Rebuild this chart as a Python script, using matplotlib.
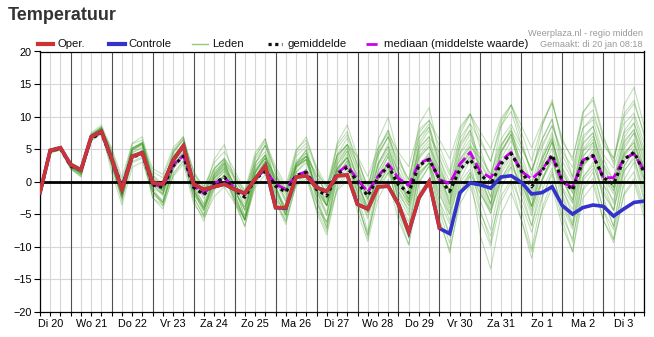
import matplotlib
matplotlib.use("Agg")
import matplotlib.pyplot as plt
from matplotlib.lines import Line2D
import numpy as np

plt.rcParams['font.family'] = ['Liberation Sans', 'DejaVu Sans']

# ── Data: 6-hourly steps, Di 20 06:00 .. Wo 4 00:00 ──
day_labels = ["Di 20", "Wo 21", "Do 22", "Vr 23", "Za 24", "Zo 25", "Ma 26", "Di 27",
              "Wo 28", "Do 29", "Vr 30", "Za 31", "Zo 1", "Ma 2", "Di 3"]

oper = [-1.7, 4.8, 5.2, 2.6, 1.8, 6.9, 7.7, 3.5, -1.2, 3.9,
        4.4, -0.2, -0.4, 3.3, 5.5, -0.4, -1.2, -0.8, -0.4, -1.2,
        -1.8, 0.4, 2.4, -4.0, -4.0, 0.7, 0.9, -0.9, -1.5, 0.9,
        1.0, -3.5, -4.2, -0.8, -0.7, -3.5, -7.7, -2.5, 0.0, -7.1]

controle = [-1.7, 4.8, 5.2, 2.6, 1.8, 6.9, 7.7, 3.5, -1.2, 3.9,
            4.4, -0.2, -0.4, 3.3, 5.5, -0.4, -1.2, -0.8, -0.4, -1.2,
            -1.8, 0.4, 2.4, -4.0, -4.1, 0.7, 0.9, -0.9, -1.5, 0.9,
            1.0, -3.5, -4.2, -0.8, -0.7, -3.5, -7.8, -2.5, 0.0, -7.2,
            -8.0, -1.7, -0.2, -0.5, -1.0, 0.7, 0.9, -0.1, -1.9, -1.7,
            -0.8, -3.7, -5.0, -4.0, -3.6, -3.8, -5.3, -4.2, -3.2, -3.0]

gemiddelde = [-1.7, 4.7, 5.1, 2.4, 1.8, 6.6, 7.5, 3.4, -0.8, 3.8,
              4.2, -0.5, -0.9, 2.4, 3.9, -0.9, -2.0, -0.3, 0.7, -1.3,
              -2.4, 0.4, 1.6, -0.7, -1.6, 0.9, 1.4, -1.2, -2.2, 1.1,
              2.2, -0.1, -2.2, 0.6, 2.4, -0.5, -1.7, 2.5, 3.4, 0.4,
              -1.5, 1.9, 3.4, 1.1, -0.4, 2.7, 4.3, 1.6, -0.8, 1.6,
              4.1, 0.1, -1.3, 3.2, 4.0, 0.6, -0.4, 3.4, 4.5, 1.4]

mediaan = [-1.7, 4.8, 5.1, 2.4, 1.8, 6.7, 7.6, 3.4, -0.6, 3.9,
           4.3, -0.4, -0.8, 2.6, 4.0, -0.7, -1.8, -0.3, 0.6, -1.0,
           -2.0, 0.5, 1.8, -0.4, -1.2, 1.0, 1.5, -0.8, -1.6, 1.3,
           2.5, 0.3, -1.6, 0.8, 2.7, 0.5, -0.6, 2.8, 3.5, 0.3,
           -0.3, 2.7, 4.5, 1.5, 0.6, 3.2, 4.5, 1.6, 0.4, 1.8,
           4.0, -0.1, -0.9, 3.3, 4.0, 0.6, 0.6, 3.5, 4.3, 1.6]

leden = [
    [-1.6, 4.8, 5.2, 2.7, 1.7, 7.1, 8.2, 4.2, -0.8, 5.0, 5.8, 0.5, -0.9, 3.9, 5.9, 0.6, -1.9, 1.9, 3.6, 0.7, -2.4, 3.4, 5.6, 1.8, -1.1, 4.4, 5.9, 1.8, -1.2, 5.1, 7.2, 3.4, -0.7, 5.1, 7.9, 3.5, 0.3, 7.5, 9.4, 5.4, 1.5, 7.9, 10.4, 6.6, 3.1, 9.2, 11.8, 7.6, 3.2, 8.6, 12.1, 6.6, 3.2, 10.7, 12.5, 6.6, 3.6, 10.4, 12.5, 6.9],
    [-1.8, 4.6, 5.0, 2.1, 1.0, 6.6, 7.7, 2.9, -2.3, 3.8, 4.7, -1.5, -3.2, 2.0, 4.2, -2.4, -5.3, -0.9, 1.0, -3.3, -6.9, -0.4, 2.1, -3.2, -6.6, -0.4, 1.4, -4.7, -8.2, -1.2, 1.2, -4.6, -9.2, -2.7, 0.4, -6.0, -9.7, -1.8, 0.4, -6.1, -10.5, -3.4, -0.6, -5.9, -9.9, -3.1, -0.2, -5.9, -10.8, -4.7, -0.9, -6.9, -10.8, -2.6, -0.5, -5.9, -9.4, -1.9, 0.5, -4.6],
    [-1.5, 4.9, 5.3, 2.9, 2.1, 7.2, 8.2, 4.6, 0.0, 5.2, 5.8, 1.5, 0.6, 4.7, 6.4, 1.1, -0.7, 2.1, 3.4, 0.2, -1.9, 2.4, 4.1, 0.3, -1.6, 2.4, 3.4, -0.7, -2.7, 2.1, 3.7, -0.6, -3.7, 0.6, 2.9, -2.0, -4.2, 1.5, 2.9, -2.1, -5.0, -0.1, 1.9, -1.9, -4.4, 0.2, 2.3, -0.4, -3.8, 0.1, 3.1, -0.9, -3.3, 2.7, 4.0, 0.6, -1.4, 3.9, 5.5, 1.9],
    [-1.9, 4.5, 4.9, 2.2, 1.3, 6.6, 7.6, 2.4, -2.4, 3.1, 3.8, -2.0, -3.2, 1.3, 3.2, -1.9, -4.1, -0.8, 0.8, -1.3, -3.9, 1.2, 3.1, 0.3, -2.1, 2.7, 3.9, 0.8, -1.7, 3.9, 5.7, 2.9, -0.7, 4.4, 6.9, 3.0, 0.3, 6.8, 8.4, 3.4, 0.0, 5.7, 7.9, 3.1, 0.1, 5.5, 7.8, 2.6, -1.3, 3.4, 6.6, 0.1, -2.8, 4.0, 5.5, -0.4, -2.9, 3.2, 5.0, -0.1],
    [-1.7, 4.7, 5.1, 3.0, 1.8, 7.5, 8.7, 4.9, -0.5, 5.9, 6.9, 0.0, -1.9, 3.7, 5.9, -0.9, -4.1, 0.8, 2.8, -1.8, -5.9, 1.4, 4.1, -1.7, -5.6, 1.4, 3.4, -3.2, -7.2, 0.6, 3.2, -3.1, -8.2, -0.9, 2.4, -4.5, -8.7, 0.0, 2.4, -4.6, -9.5, -1.6, 1.4, -2.9, -7.4, 0.2, 3.3, -1.4, -6.8, 0.1, 4.1, -2.4, -6.8, 2.2, 4.5, -2.9, -6.9, 1.4, 4.0, -2.6],
    [-1.6, 4.8, 5.2, 2.4, 1.4, 6.8, 7.9, 3.6, -1.4, 4.4, 5.2, 0.3, -1.1, 3.7, 5.7, 0.6, -1.9, 1.9, 3.6, 1.2, -1.9, 3.9, 6.1, 2.3, -0.6, 4.9, 6.4, 2.3, -0.7, 5.6, 7.7, 2.4, -1.7, 4.1, 6.9, 1.0, -2.2, 5.0, 6.9, 0.9, -3.0, 3.4, 5.9, 2.1, -1.4, 4.7, 7.3, 4.1, -0.3, 5.1, 8.6, 4.1, 0.7, 8.2, 10.0, 6.1, 3.1, 9.9, 12.0, 7.4],
    [-2.0, 4.4, 4.8, 1.9, 1.0, 6.3, 7.3, 2.2, -2.6, 2.9, 3.6, -2.5, -3.7, 0.8, 2.7, -3.4, -5.6, -2.3, -0.8, -3.3, -5.9, -0.9, 1.1, -1.7, -4.1, 0.7, 1.9, -1.2, -3.7, 1.9, 3.7, 0.9, -2.7, 2.4, 4.9, 1.5, -1.2, 5.3, 6.9, 4.4, 1.0, 6.7, 8.9, 6.1, 3.1, 8.5, 10.8, 5.6, 1.7, 6.4, 9.6, 2.1, -0.8, 6.0, 7.5, 0.6, -1.9, 4.2, 6.0, 0.4],
    [-1.5, 4.9, 5.3, 2.6, 1.5, 7.1, 8.2, 3.9, -1.3, 4.8, 5.7, -0.5, -2.2, 3.0, 5.2, -1.4, -4.3, 0.1, 2.0, -2.3, -5.9, 0.7, 3.1, -2.7, -6.1, 0.2, 1.9, -4.2, -7.7, -0.7, 1.7, -3.6, -8.2, -1.7, 1.4, -3.5, -7.2, 0.8, 2.9, -1.6, -6.0, 1.2, 3.9, 0.6, -3.4, 3.5, 6.3, 2.6, -2.3, 3.9, 7.6, 2.1, -1.8, 6.5, 8.5, 3.6, 0.1, 7.7, 10.0, 4.9],
    [-1.7, 4.7, 5.1, 2.3, 1.3, 6.7, 7.8, 3.7, -1.3, 4.5, 5.3, 1.0, -0.4, 4.4, 6.4, 1.6, -0.9, 2.9, 4.6, 1.7, -1.4, 4.4, 6.6, 1.3, -1.6, 3.9, 5.4, -0.2, -3.2, 3.1, 5.2, -0.1, -4.2, 1.6, 4.4, -1.5, -4.7, 2.5, 4.4, -1.1, -5.0, 1.4, 3.9, -1.4, -4.9, 1.2, 3.8, -2.4, -6.8, -1.4, 2.1, -5.4, -8.8, -1.3, 0.5, -5.9, -8.9, -2.1, 0.0, -5.6],
    [-1.8, 4.6, 5.0, 2.8, 2.0, 7.1, 8.1, 3.1, -1.5, 3.7, 4.3, -1.0, -1.9, 2.2, 3.9, -0.4, -2.2, 0.6, 1.9, -0.3, -2.4, 1.9, 3.6, 0.8, -1.1, 2.9, 3.9, 1.3, -0.7, 4.1, 5.7, 3.9, 0.8, 5.1, 7.4, 4.5, 2.3, 8.0, 9.4, 6.4, 3.5, 8.4, 10.4, 7.6, 5.1, 9.7, 11.8, 8.6, 5.2, 9.1, 12.1, 6.1, 3.7, 9.7, 11.0, 5.6, 3.6, 8.9, 10.5, 5.9],
    [-1.4, 5.0, 5.4, 2.5, 1.5, 6.9, 8.0, 4.4, -0.6, 5.2, 6.0, 0.0, -1.4, 3.4, 5.4, -1.9, -4.4, -0.6, 1.1, -2.8, -5.9, -0.1, 2.1, -1.2, -4.1, 1.4, 2.9, -0.7, -3.7, 2.6, 4.7, 0.9, -3.2, 2.6, 5.4, -0.5, -3.7, 3.5, 5.4, -0.6, -4.5, 1.9, 4.4, -0.9, -4.4, 1.7, 4.3, 0.6, -3.8, 1.6, 5.1, 0.6, -2.8, 4.7, 6.5, 2.1, -0.9, 5.9, 8.0, 3.4],
    [-1.9, 4.5, 4.9, 2.0, 0.7, 6.6, 7.8, 2.6, -3.0, 3.7, 4.8, -1.0, -3.2, 2.8, 5.2, -0.9, -4.5, 0.9, 3.2, -0.8, -5.4, 2.7, 5.6, -0.7, -5.1, 2.7, 4.9, -2.2, -6.7, 1.9, 4.7, -2.1, -7.7, 0.4, 3.9, -3.0, -7.7, 1.8, 4.4, -3.1, -8.5, 0.2, 3.4, -4.4, -9.4, -1.1, 2.3, -4.4, -10.3, -2.7, 1.6, -4.4, -9.3, 0.5, 3.0, -2.4, -6.9, 2.2, 5.0, -1.1],
    [-1.6, 4.8, 5.2, 2.7, 1.8, 7.1, 8.1, 3.4, -1.4, 4.1, 4.8, 0.5, -0.7, 3.8, 5.7, 0.1, -2.1, 1.2, 2.8, -0.8, -3.4, 1.7, 3.6, 0.8, -1.6, 3.2, 4.4, 0.8, -1.7, 3.9, 5.7, 1.4, -2.2, 2.9, 5.4, 0.0, -2.7, 3.8, 5.4, 1.9, -1.5, 4.2, 6.4, 4.1, 1.1, 6.5, 8.8, 5.6, 1.7, 6.4, 9.6, 3.1, 0.2, 7.0, 8.5, 2.6, 0.1, 6.2, 8.0, 2.9],
    [-1.7, 4.7, 5.1, 2.2, 1.2, 6.6, 7.7, 4.0, -1.0, 4.8, 5.6, -0.5, -1.9, 2.9, 4.9, -1.4, -3.9, -0.1, 1.6, -1.3, -4.4, 1.4, 3.6, -2.2, -5.1, 0.4, 1.9, -2.2, -5.2, 1.1, 3.2, -0.1, -4.2, 1.6, 4.4, 0.5, -2.7, 4.5, 6.4, 0.4, -3.5, 2.9, 5.4, 0.1, -3.4, 2.7, 5.3, -0.9, -5.3, 0.1, 3.6, -3.4, -6.8, 0.7, 2.5, -1.4, -4.4, 2.4, 4.5, 0.4],
    [-1.9, 4.5, 4.9, 2.5, 1.4, 7.0, 8.1, 2.9, -2.3, 3.8, 4.7, -2.5, -4.2, 1.0, 3.2, -2.4, -5.3, -0.9, 1.0, -2.3, -5.9, 0.7, 3.1, -0.7, -4.1, 2.2, 3.9, -0.2, -3.7, 3.4, 5.7, 1.9, -2.7, 3.9, 6.9, 2.5, -1.2, 6.8, 8.9, 2.4, -2.0, 5.2, 7.9, 1.6, -2.4, 4.5, 7.3, 1.1, -3.8, 2.4, 6.1, 0.6, -3.3, 5.0, 7.0, 2.6, -0.9, 6.7, 9.0, 3.9],
    [-1.5, 4.9, 5.3, 2.6, 1.8, 6.9, 7.9, 5.2, 0.6, 5.8, 6.4, 2.0, 1.1, 5.2, 6.9, 0.1, -1.7, 1.1, 2.4, -1.8, -3.9, 0.4, 2.1, -2.7, -4.6, -0.6, 0.4, -4.2, -6.2, -1.4, 0.2, -2.1, -5.2, -0.9, 1.4, -1.0, -3.2, 2.5, 3.9, 1.4, -1.5, 3.4, 5.4, 3.6, 1.1, 5.7, 7.8, 5.1, 1.7, 5.6, 8.6, 4.6, 2.2, 8.2, 9.5, 4.1, 2.1, 7.4, 9.0, 4.4],
    [-1.7, 4.7, 5.1, 2.4, 1.5, 6.8, 7.8, 3.2, -1.6, 3.9, 4.6, 0.0, -1.2, 3.3, 5.2, -0.4, -2.6, 0.7, 2.3, -0.3, -2.9, 2.2, 4.1, -0.2, -2.6, 2.2, 3.4, -1.2, -3.7, 1.9, 3.7, -1.1, -4.7, 0.4, 2.9, -2.5, -5.2, 1.3, 2.9, -3.1, -6.5, -0.9, 1.4, -1.9, -4.9, 0.5, 2.8, -0.4, -4.3, 0.4, 3.6, -1.4, -4.3, 2.5, 4.0, -1.9, -4.4, 1.7, 3.5, -1.6],
    [-1.6, 4.8, 5.2, 2.6, 1.3, 7.2, 8.4, 3.8, -1.8, 4.9, 6.0, -1.5, -3.7, 2.3, 4.7, -1.4, -5.0, 0.4, 2.7, -0.8, -5.4, 2.7, 5.6, 1.3, -3.1, 4.7, 6.9, 1.8, -2.7, 5.9, 8.7, 3.9, -1.7, 6.4, 9.9, 4.0, -0.7, 8.8, 11.4, 3.9, -1.5, 7.2, 10.4, 5.1, 0.1, 8.5, 11.8, 6.6, 0.7, 8.4, 12.6, 5.6, 0.7, 10.5, 13.0, 7.1, 2.6, 11.7, 14.5, 8.4],
    [-1.8, 4.6, 5.0, 2.3, 1.3, 6.7, 7.8, 1.4, -3.6, 2.2, 3.0, -1.5, -2.9, 1.9, 3.9, -0.9, -3.4, 0.4, 2.1, -1.3, -4.4, 1.4, 3.6, -0.2, -3.1, 2.4, 3.9, -1.7, -4.7, 1.6, 3.7, -1.6, -5.7, 0.1, 2.9, -3.0, -6.2, 1.0, 2.9, -4.1, -8.0, -1.6, 0.9, -4.9, -8.4, -2.3, 0.3, -3.4, -7.8, -2.4, 1.1, -3.9, -7.3, 0.2, 2.0, -4.4, -7.4, -0.6, 1.5, -4.1],
    [-1.7, 4.7, 5.1, 2.7, 1.5, 7.2, 8.4, 4.1, -1.3, 5.1, 6.1, 1.0, -0.9, 4.7, 6.9, -0.4, -3.6, 1.3, 3.3, -1.8, -5.9, 1.4, 4.1, -1.2, -5.1, 1.9, 3.9, -1.2, -5.2, 2.6, 5.2, 0.4, -4.7, 2.6, 5.9, 1.0, -3.2, 5.5, 7.9, 2.9, -2.0, 5.9, 8.9, 2.1, -2.4, 5.2, 8.3, 1.6, -3.8, 3.1, 7.1, -0.9, -5.3, 3.7, 6.0, 0.6, -3.4, 4.9, 7.5, 1.9],
    [-1.5, 4.9, 5.3, 2.1, 1.3, 6.4, 7.4, 3.5, -1.1, 4.1, 4.7, -0.5, -1.4, 2.7, 4.4, 0.6, -1.2, 1.6, 2.9, 0.7, -1.4, 2.9, 4.6, 0.3, -1.6, 2.4, 3.4, -1.7, -3.7, 1.1, 2.7, -1.6, -4.7, -0.4, 1.9, -1.5, -3.7, 2.0, 3.4, 0.4, -2.5, 2.4, 4.4, 2.6, 0.1, 4.7, 6.8, 3.1, -0.3, 3.6, 6.6, 1.1, -1.3, 4.7, 6.0, 1.1, -0.9, 4.4, 6.0, 1.4],
    [-1.8, 4.6, 5.0, 2.9, 1.9, 7.3, 8.4, 4.3, -0.7, 5.1, 5.9, 0.0, -1.4, 3.4, 5.4, -1.4, -3.9, -0.1, 1.6, -2.8, -5.9, -0.1, 2.1, -3.2, -6.1, -0.6, 0.9, -3.2, -6.2, 0.1, 2.2, -0.6, -4.7, 1.1, 3.9, 0.0, -3.2, 4.0, 5.9, -0.1, -4.0, 2.4, 4.9, -0.4, -3.9, 2.2, 4.8, 1.6, -2.8, 2.6, 6.1, 1.6, -1.8, 5.7, 7.5, 1.6, -1.4, 5.4, 7.5, 1.9],
    [-1.6, 4.8, 5.2, 2.0, 0.8, 6.5, 7.7, 2.8, -2.6, 3.8, 4.8, -1.5, -3.4, 2.2, 4.4, -2.9, -6.1, -1.3, 0.8, -2.8, -6.9, 0.4, 3.1, -0.7, -4.6, 2.4, 4.4, 0.3, -3.7, 4.1, 6.7, 2.4, -2.7, 4.6, 7.9, 1.5, -2.7, 6.0, 8.4, 1.4, -3.5, 4.4, 7.4, 1.1, -3.4, 4.2, 7.3, 0.6, -4.8, 2.1, 6.1, -1.9, -6.3, 2.7, 5.0, -0.4, -4.4, 3.9, 6.5, 1.4],
    [-1.7, 4.7, 5.1, 2.4, 1.1, 7.0, 8.2, 3.7, -1.9, 4.8, 5.9, 0.5, -1.7, 4.3, 6.7, 1.6, -2.0, 3.4, 5.7, 0.2, -4.4, 3.7, 6.6, -0.7, -5.1, 2.7, 4.9, -2.7, -7.2, 1.4, 4.2, -3.1, -8.7, -0.7, 2.9, -5.0, -9.7, -0.3, 2.4, -5.6, -11.0, -2.4, 0.9, -8.4, -13.4, -5.1, -1.7, -5.9, -11.8, -4.2, 0.1, -5.9, -10.8, -1.1, 1.5, -4.4, -8.9, 0.2, 3.0, -3.1],
]

# ── Layout (pixels) ──
W, H = 654, 337
LEFT, RIGHT, TOP, BOTTOM = 40, 644.3, 51.5, 311.7

fig = plt.figure(figsize=(W / 100, H / 100), dpi=100)
ax = fig.add_axes([LEFT / W, 1 - BOTTOM / H, (RIGHT - LEFT) / W, (BOTTOM - TOP) / H])

n = len(controle)
x = np.arange(n)

# background grid: 6-hourly light lines, darker at midnight
for i in x:
    if i % 4 == 3:
        ax.axvline(i, color='#505050', lw=0.8, zorder=2.5)
    else:
        ax.axvline(i, color='#d6d6d6', lw=0.8, zorder=0.5)
for yv in range(-15, 20, 5):
    ax.axhline(yv, color='#d6d6d6', lw=0.8, zorder=0.5)

# ensemble members
for member in leden:
    ax.plot(x, member, color='#3f9c22', lw=0.75, alpha=0.33, zorder=2)

ax.axhline(0, color='black', lw=2.0, zorder=3)

ax.plot(x, mediaan, color='#cc00ee', lw=2.0, dashes=(4, 1.5), zorder=4)
ax.plot(x, gemiddelde, color='#111111', lw=2.3, dashes=(1, 1.1), zorder=5)
ax.plot(x, controle, color='#3333cc', lw=2.6, zorder=6, solid_joinstyle='miter')
ax.plot(x[:len(oper)], oper, color='#cc3333', lw=2.6, zorder=7, solid_joinstyle='miter')

ax.set_xlim(0, n - 1)
ax.set_ylim(-20, 20)
ax.set_yticks(range(-20, 21, 5))

tick_labels = [''] * n
for k, lab in enumerate(day_labels):
    tick_labels[1 + 4 * k] = lab
ax.set_xticks(x)
ax.set_xticklabels(tick_labels)
ax.tick_params(axis='x', length=3, width=0.8, pad=2, labelsize=7.8, colors='black')
ax.tick_params(axis='y', length=4, width=0.8, pad=2, labelsize=7.8, colors='black')
for s in ax.spines.values():
    s.set_color('black')
    s.set_linewidth(0.9)
ax.set_zorder(2)

# ── Title and header texts ──
fig.text(8 / W, 1 - 16 / H, 'Temperatuur', fontsize=13, fontweight='bold',
         color='#333333', va='center', ha='left')
fig.text(643 / W, 1 - 33 / H, 'Weerplaza.nl - regio midden', fontsize=6.6,
         color='#999999', va='center', ha='right')
fig.text(643 / W, 1 - 44.5 / H, 'Gemaakt: di 20 jan 08:18', fontsize=6.6,
         color='#999999', va='center', ha='right')

# ── Legend row ──
legend_y = 1 - 44 / H
legend_items = [
    (38, 53, 57, 'Oper.', dict(color='#cc3333', lw=3.0)),
    (109, 125, 128, 'Controle', dict(color='#3333cc', lw=3.0)),
    (192, 208, 212, 'Leden', dict(color='#8fcc78', lw=1.0)),
    (268, 282, 287, 'gemiddelde', dict(color='#111111', lw=2.3, dashes=(1, 1.1))),
    (366, 380, 384, 'mediaan (middelste waarde)', dict(color='#cc00ee', lw=2.0, dashes=(4, 1.5))),
]
for x0, x1, xt, label, style in legend_items:
    fig.add_artist(Line2D([x0 / W, x1 / W], [legend_y, legend_y],
                          transform=fig.transFigure, **style))
    fig.text(xt / W, legend_y, label, fontsize=8.2, color='#111111',
             va='center', ha='left')

fig.savefig('out.png', dpi=100)
